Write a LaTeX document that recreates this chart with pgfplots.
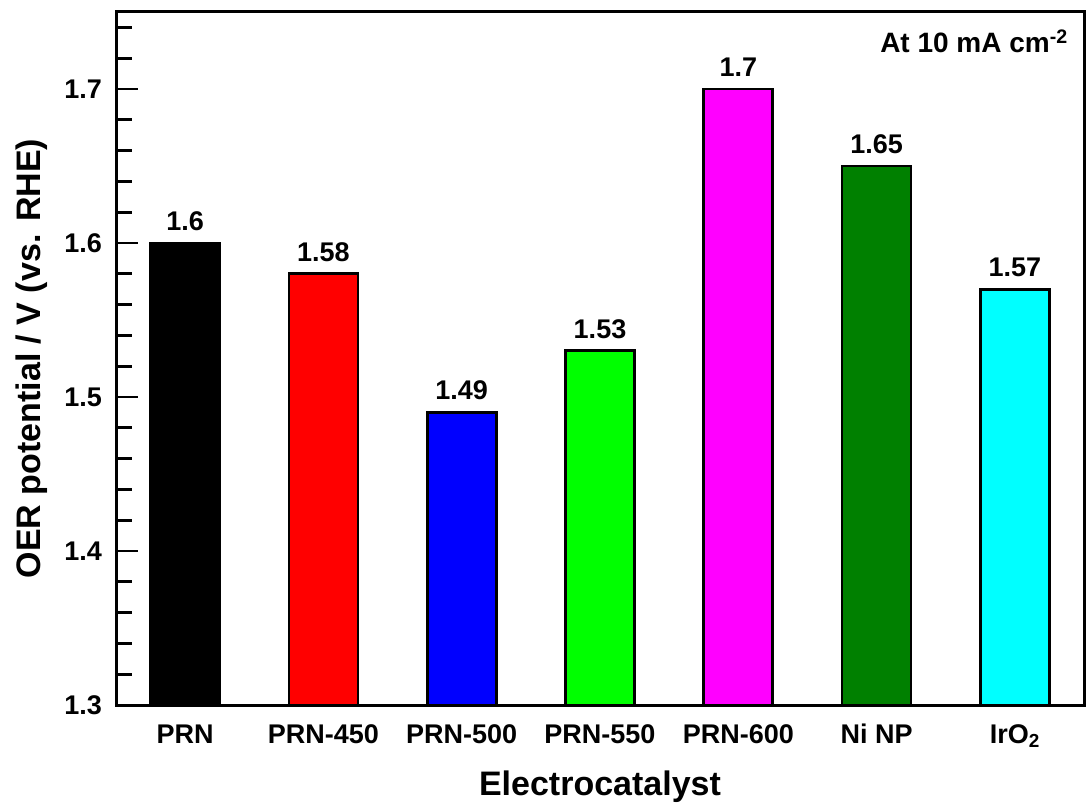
\documentclass[border=0pt]{standalone}
\usepackage{pgfplots}
\pgfplotsset{compat=1.18}
\usepackage{fontspec}
\setmainfont{Liberation Sans}
\definecolor{dgreen}{RGB}{0,128,0}
\definecolor{mymag}{RGB}{255,0,255}
\definecolor{mycyan}{RGB}{0,255,255}
\definecolor{mygreen}{RGB}{0,255,0}
\definecolor{myred}{RGB}{255,0,0}
\definecolor{myblue}{RGB}{0,0,255}
\begin{document}
\begin{tikzpicture}
\begin{axis}[
  width=968pt, height=693pt, scale only axis,
  xmin=-0.5, xmax=6.5, ymin=1.3, ymax=1.75,
  ybar, bar width=69pt,
  every outer x axis line/.append style={line width=3pt},
  every outer y axis line/.append style={line width=3pt},
  axis line style={line width=3pt},
  /pgf/number format/assume math mode=true,
  xtick={0,1,2,3,4,5,6},
  xticklabels={PRN, PRN-450, PRN-500, PRN-550, PRN-600, Ni NP, IrO\textsubscript{2}},
  major x tick style={draw=none},
  xticklabel style={font=\bfseries\fontsize{27}{27}\selectfont, anchor=base, inner sep=0pt, yshift=-38pt},
  ytick={1.3,1.4,1.5,1.6,1.7},
  minor ytick={1.32,1.34,1.36,1.38,1.42,1.44,1.46,1.48,1.52,1.54,1.56,1.58,1.62,1.64,1.66,1.68,1.72,1.74},
  ytick pos=left, tick align=inside,
  major tick length=22pt, minor tick length=16pt,
  tick style={line width=2.8pt, black},
  yticklabel style={font=\bfseries\fontsize{27}{27}\selectfont, anchor=east, inner sep=0pt, xshift=-14pt},
  yticklabel={\pgfmathprintnumber[fixed, precision=1, fixed zerofill]{\tick}},
  ylabel={OER potential / V (vs. RHE)},
  ylabel style={at={(axis description cs:-0.0775,0.5)}, anchor=base, rotate=0, inner sep=0pt, font=\bfseries\fontsize{34}{34}\selectfont},
  xlabel={Electrocatalyst},
  xlabel style={at={(axis description cs:0.5,0)}, anchor=base, inner sep=0pt, yshift=-90pt, font=\bfseries\fontsize{34}{34}\selectfont},
  nodes near coords,
  every node near coord/.append style={font=\bfseries\fontsize{27}{27}\selectfont, inner sep=0pt, yshift=11pt, black},
]
\addplot[bar shift=0pt, fill=black, draw=black, line width=2.8pt] coordinates {(0,1.6)};
\addplot[bar shift=0pt, fill=myred, draw=black, line width=2.8pt] coordinates {(1,1.58)};
\addplot[bar shift=0pt, fill=myblue, draw=black, line width=2.8pt] coordinates {(2,1.49)};
\addplot[bar shift=0pt, fill=mygreen, draw=black, line width=2.8pt] coordinates {(3,1.53)};
\addplot[bar shift=0pt, fill=mymag, draw=black, line width=2.8pt] coordinates {(4,1.7)};
\addplot[bar shift=0pt, fill=dgreen, draw=black, line width=2.8pt] coordinates {(5,1.65)};
\addplot[bar shift=0pt, fill=mycyan, draw=black, line width=2.8pt] coordinates {(6,1.57)};
\node[anchor=base east, inner sep=0pt, font=\bfseries\fontsize{28}{28}\selectfont] at ([xshift=-16pt,yshift=-41pt]rel axis cs:1,1) {At 10 mA cm\textsuperscript{-2}};
\end{axis}
\path ([xshift=-116pt,yshift=-101pt]current axis.south west) rectangle ([xshift=2pt,yshift=12pt]current axis.north east);
\end{tikzpicture}
\end{document}
